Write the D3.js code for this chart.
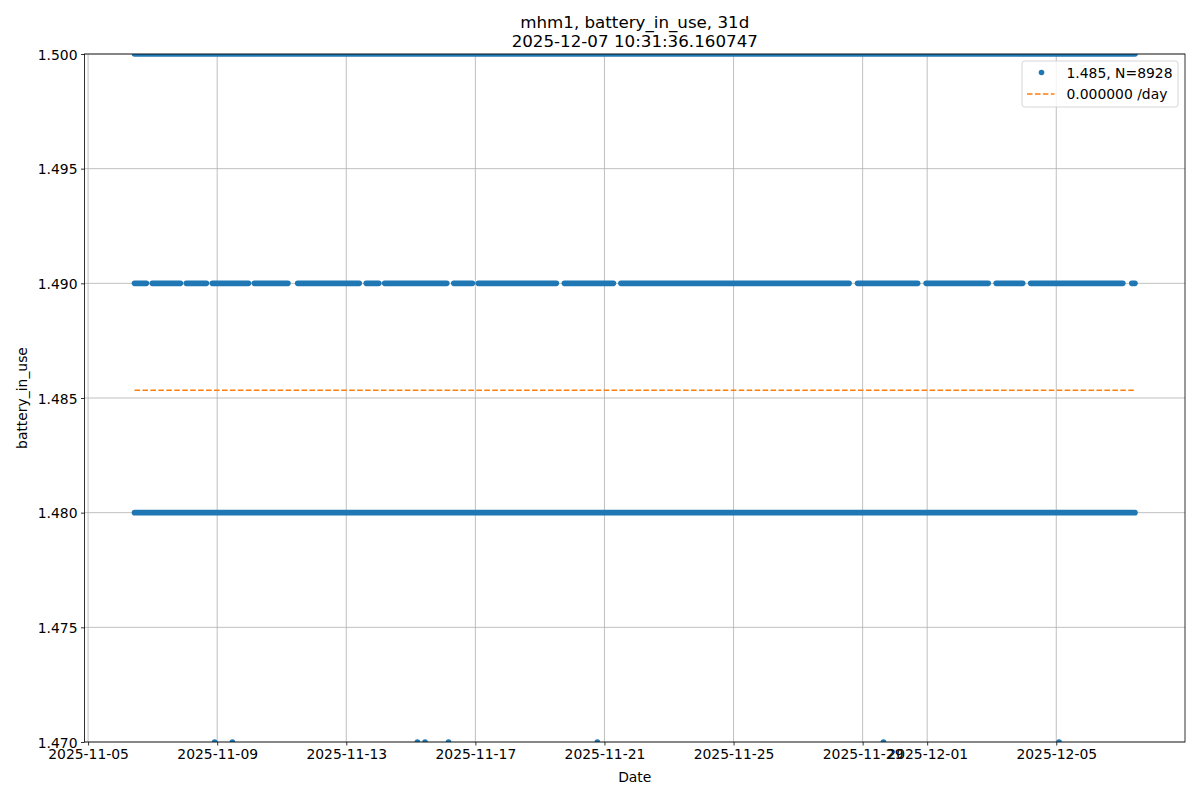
<!DOCTYPE html>
<html><head><meta charset="utf-8">
<script src="https://cdn.jsdelivr.net/npm/d3@7/dist/d3.min.js"></script>
<style>
body{margin:0;background:#fff}
text{font-family:"DejaVu Sans",sans-serif;fill:#000}
</style>
</head><body>
<svg id="chart" width="1200" height="800"></svg>
<script>
// ---- data ----
const titleLine1 = "mhm1, battery_in_use, 31d";
const titleLine2 = "2025-12-07 10:31:36.160747";
const seriesLabel = "1.485, N=8928";
const trendLabel = "0.000000 /day";
const dataStart = "2025-11-06T10:31:36Z";
const dataEnd = "2025-12-07T10:31:36Z";
// continuous runs of 5-minute samples at each level [start, end]
const runs148 = [["2025-11-06T10:31:36Z","2025-12-07T10:31:36Z"]];
const runs149 = [
  ["2025-11-06T10:31Z","2025-11-06T19:20Z"],
  ["2025-11-06T23:44Z","2025-11-07T20:39Z"],
  ["2025-11-08T01:03Z","2025-11-08T16:00Z"],
  ["2025-11-08T20:24Z","2025-11-09T23:15Z"],
  ["2025-11-10T03:39Z","2025-11-11T04:37Z"],
  ["2025-11-11T11:52Z","2025-11-13T09:38Z"],
  ["2025-11-13T14:51Z","2025-11-14T00:11Z"],
  ["2025-11-14T04:35Z","2025-11-16T02:45Z"],
  ["2025-11-16T07:58Z","2025-11-16T21:46Z"],
  ["2025-11-17T02:10Z","2025-11-19T12:14Z"],
  ["2025-11-19T18:12Z","2025-11-21T06:40Z"],
  ["2025-11-21T12:14Z","2025-11-28T13:55Z"],
  ["2025-11-28T20:14Z","2025-11-30T16:54Z"],
  ["2025-11-30T23:14Z","2025-12-02T21:22Z"],
  ["2025-12-03T03:19Z","2025-12-03T23:02Z"],
  ["2025-12-04T04:59Z","2025-12-07T01:28Z"],
  ["2025-12-07T08:10Z","2025-12-07T10:31Z"]
];
const runs150 = [["2025-11-06T10:31:36Z","2025-12-07T10:31:36Z"]];
const points147 = [
  "2025-11-08T22:08Z","2025-11-09T11:18Z","2025-11-15T04:55Z","2025-11-15T10:34Z",
  "2025-11-16T04:03Z","2025-11-20T18:43Z","2025-11-29T15:29Z","2025-12-05T02:01Z"
];
const trendValues = [1.48534, 1.48534];
const xTickDates = ["2025-11-05","2025-11-09","2025-11-13","2025-11-17","2025-11-21","2025-11-25","2025-11-29","2025-12-01","2025-12-05"];
const yTickValues = [1.470,1.475,1.480,1.485,1.490,1.495,1.500];
const yDomain = [1.470, 1.500];

// ---- layout ----
const M = {left:84.5, right:1185, top:54, bottom:742};
const blue = "#1f77b4", orange = "#ff7f0e";
const svg = d3.select("#chart");
const parse = s => new Date(s);
const t0 = parse(dataStart), t1 = parse(dataEnd);
const span = t1 - t0;
const x = d3.scaleUtc().domain([new Date(+t0 - 0.05*span), new Date(+t1 + 0.05*span)]).range([M.left, M.right]);
const y = d3.scaleLinear().domain(yDomain).range([M.bottom, M.top]);

svg.append("rect").attr("width",1200).attr("height",800).attr("fill","#fff");
svg.append("defs").append("clipPath").attr("id","clip").append("rect")
  .attr("x",M.left).attr("y",M.top).attr("width",M.right-M.left).attr("height",M.bottom-M.top);

// grid
const xTicks = xTickDates.map(d => new Date(d + "T00:00:00Z"));
const grid = svg.append("g");
grid.selectAll("line.gx").data(xTicks).join("line")
  .attr("x1",d=>x(d)).attr("x2",d=>x(d)).attr("y1",M.top).attr("y2",M.bottom)
  .attr("stroke","#b0b0b0").attr("stroke-width",0.8);
grid.selectAll("line.gy").data(yTickValues).join("line")
  .attr("x1",M.left).attr("x2",M.right).attr("y1",d=>y(d)).attr("y2",d=>y(d))
  .attr("stroke","#b0b0b0").attr("stroke-width",0.8);

// data
const plot = svg.append("g").attr("clip-path","url(#clip)");
const MS = 5.6;
const allRuns = [
  ...runs148.map(r=>({v:1.48, r})),
  ...runs149.map(r=>({v:1.49, r})),
  ...runs150.map(r=>({v:1.50, r}))
];
plot.selectAll("line.run").data(allRuns).join("line")
  .attr("x1",d=>x(parse(d.r[0]))).attr("x2",d=>x(parse(d.r[1])))
  .attr("y1",d=>y(d.v)).attr("y2",d=>y(d.v))
  .attr("stroke",blue).attr("stroke-width",MS).attr("stroke-linecap","round");
plot.selectAll("circle.p").data(points147).join("circle")
  .attr("cx",d=>x(parse(d))).attr("cy",y(1.47)).attr("r",MS/2).attr("fill",blue);

// trend line
plot.append("line")
  .attr("x1",x(t0)).attr("x2",x(t1)).attr("y1",y(trendValues[0])).attr("y2",y(trendValues[1]))
  .attr("stroke",orange).attr("stroke-width",1.5).attr("stroke-dasharray","5.55,2.4");

// axes
const xAxis = d3.axisBottom(x).tickValues(xTicks).tickFormat(d3.utcFormat("%Y-%m-%d")).tickSize(3.5).tickPadding(3.5);
const gx = svg.append("g").attr("transform",`translate(0,${M.bottom})`).call(xAxis);
gx.select(".domain").remove();
gx.selectAll("line").attr("stroke","#000").attr("stroke-width",0.8);
gx.selectAll("text").attr("font-size","13.9px").attr("font-family","DejaVu Sans").attr("dy","0.74em");

const yAxis = d3.axisLeft(y).tickValues(yTickValues).tickFormat(d3.format(".3f")).tickSize(3.5).tickPadding(3.5);
const gy = svg.append("g").attr("transform",`translate(${M.left},0)`).call(yAxis);
gy.select(".domain").remove();
gy.selectAll("line").attr("stroke","#000").attr("stroke-width",0.8);
gy.selectAll("text").attr("font-size","13.9px").attr("font-family","DejaVu Sans").attr("dy","0.36em");

// spines
svg.append("rect").attr("x",M.left).attr("y",M.top).attr("width",M.right-M.left).attr("height",M.bottom-M.top)
  .attr("fill","none").attr("stroke","#000").attr("stroke-width",0.8);

// titles & labels
const cx = (M.left+M.right)/2;
svg.append("text").attr("x",cx).attr("y",27.5).attr("text-anchor","middle").attr("font-size","16.7px").text(titleLine1);
svg.append("text").attr("x",cx).attr("y",46.5).attr("text-anchor","middle").attr("font-size","16.7px").text(titleLine2);
svg.append("text").attr("x",cx).attr("y",782).attr("text-anchor","middle").attr("font-size","13.9px").text("Date");
svg.append("text").attr("transform",`translate(26.5,${(M.top+M.bottom)/2}) rotate(-90)`).attr("text-anchor","middle").attr("font-size","13.9px").text("battery_in_use");

// legend
const lg = svg.append("g");
const LW = 156, LH = 46, lx = M.right - 7 - LW, ly = M.top + 7;
lg.append("rect").attr("x",lx).attr("y",ly).attr("width",LW).attr("height",LH).attr("rx",2.8)
  .attr("fill","#fff").attr("fill-opacity",0.8).attr("stroke","#cccccc").attr("stroke-width",0.8);
lg.append("circle").attr("cx",lx+19.5).attr("cy",ly+11.5).attr("r",MS/2).attr("fill",blue);
lg.append("text").attr("x",lx+44.5).attr("y",ly+11.5).attr("dy","0.36em").attr("font-size","13.9px").text(seriesLabel);
lg.append("line").attr("x1",lx+5).attr("x2",lx+32.5).attr("y1",ly+33).attr("y2",ly+33)
  .attr("stroke",orange).attr("stroke-width",1.5).attr("stroke-dasharray","5.55,2.4");
lg.append("text").attr("x",lx+44.5).attr("y",ly+33).attr("dy","0.36em").attr("font-size","13.9px").text(trendLabel);
</script>
</body></html>
